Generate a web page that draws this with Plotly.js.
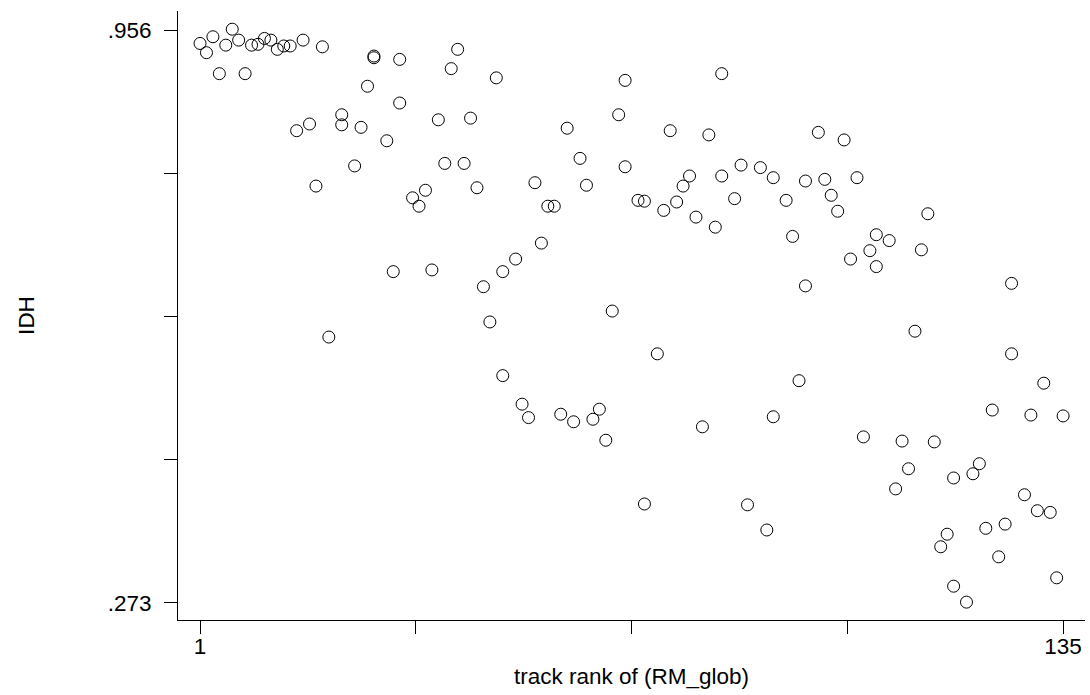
<!DOCTYPE html>
<html>
<head>
<meta charset="utf-8">
<script src="https://cdn.plot.ly/plotly-3.0.1.min.js"></script>
<style>html,body{margin:0;padding:0;background:#fff;}#chart{width:1090px;height:695px;}</style>
</head>
<body>
<div id="chart"></div>
<script>
// track rank of (RM_glob)
const rankRM = [1,2,3,4,5,6,7,8,9,10,11,12,13,14,15,16,17,18,19,20,21,23,23,25,26,27,28,28,30,31,32,32,34,35,36,37,38,39,40,41,42,43,44,45,46,47,48,48,50,51,52,53,54,55,56,57,58,59,60,61,62,63,64,65,66,67,67,69,70,70,72,73,74,75,76,77,78,79,80,81,82,82,84,85,86,88,89,90,90,92,93,94,95,95,97,98,99,100,101,102,103,104,105,106,106,108,109,110,111,112,113,114,115,116,117,118,118,120,121,122,123,124,125,126,127,127,129,130,131,132,133,134,135];
// IDH
const idh = [0.940,0.929,0.948,0.904,0.938,0.957,0.944,0.904,0.938,0.939,0.946,0.944,0.933,0.937,0.937,0.836,0.944,0.844,0.770,0.936,0.590,0.855,0.843,0.794,0.840,0.889,0.925,0.923,0.824,0.668,0.921,0.869,0.756,0.746,0.765,0.670,0.849,0.797,0.910,0.933,0.797,0.851,0.768,0.650,0.608,0.899,0.668,0.544,0.683,0.510,0.494,0.774,0.702,0.746,0.746,0.498,0.839,0.489,0.803,0.771,0.492,0.504,0.467,0.621,0.855,0.896,0.793,0.753,0.752,0.391,0.570,0.741,0.836,0.751,0.770,0.782,0.733,0.483,0.831,0.721,0.904,0.782,0.755,0.795,0.390,0.792,0.360,0.780,0.495,0.753,0.710,0.538,0.651,0.776,0.834,0.778,0.759,0.740,0.825,0.683,0.780,0.471,0.693,0.712,0.674,0.705,0.409,0.466,0.433,0.597,0.694,0.737,0.465,0.340,0.355,0.293,0.422,0.274,0.427,0.439,0.362,0.503,0.328,0.367,0.654,0.570,0.402,0.497,0.383,0.535,0.381,0.303,0.496];
const yTickVals = [0.273, 0.44375, 0.6145, 0.78525, 0.956];
const yTickText = ['.273', '', '', '', '.956'];
const xTickVals = [1, 34.5, 68, 101.5, 135];
const xTickText = ['1', '', '', '', '135'];

const font = {family: 'Liberation Sans, Arial, sans-serif', size: 22.5, color: '#000'};

Plotly.newPlot('chart', [{
  x: rankRM, y: idh, type: 'scatter', mode: 'markers',
  marker: {symbol: 'circle-open', size: 12, color: '#000', line: {width: 1, color: '#000'}},
  hoverinfo: 'x+y'
}], {
  width: 1090, height: 695,
  margin: {l: 178, r: 5, t: 11, b: 75},
  paper_bgcolor: '#fff', plot_bgcolor: '#fff',
  font: font,
  showlegend: false,
  xaxis: {
    range: [-2.42, 138.4], showgrid: false, zeroline: false,
    showline: true, linecolor: '#000', linewidth: 1,
    ticks: 'outside', ticklen: 13, tickwidth: 1, tickcolor: '#000',
    tickvals: xTickVals, ticktext: xTickText, tickfont: font,
    ticklabelstandoff: -7,
    title: {text: 'track rank of (RM_glob)', font: font, standoff: 10}
  },
  yaxis: {
    range: [0.2527, 0.9787], showgrid: false, zeroline: false,
    showline: true, linecolor: '#000', linewidth: 1,
    ticks: 'outside', ticklen: 13, tickwidth: 1, tickcolor: '#000',
    tickvals: yTickVals, ticktext: yTickText, tickfont: font,
    ticklabelstandoff: 8,
    title: {text: 'IDH', font: font, standoff: 66}
  }
}, {displayModeBar: false, staticPlot: true});
</script>
</body>
</html>
